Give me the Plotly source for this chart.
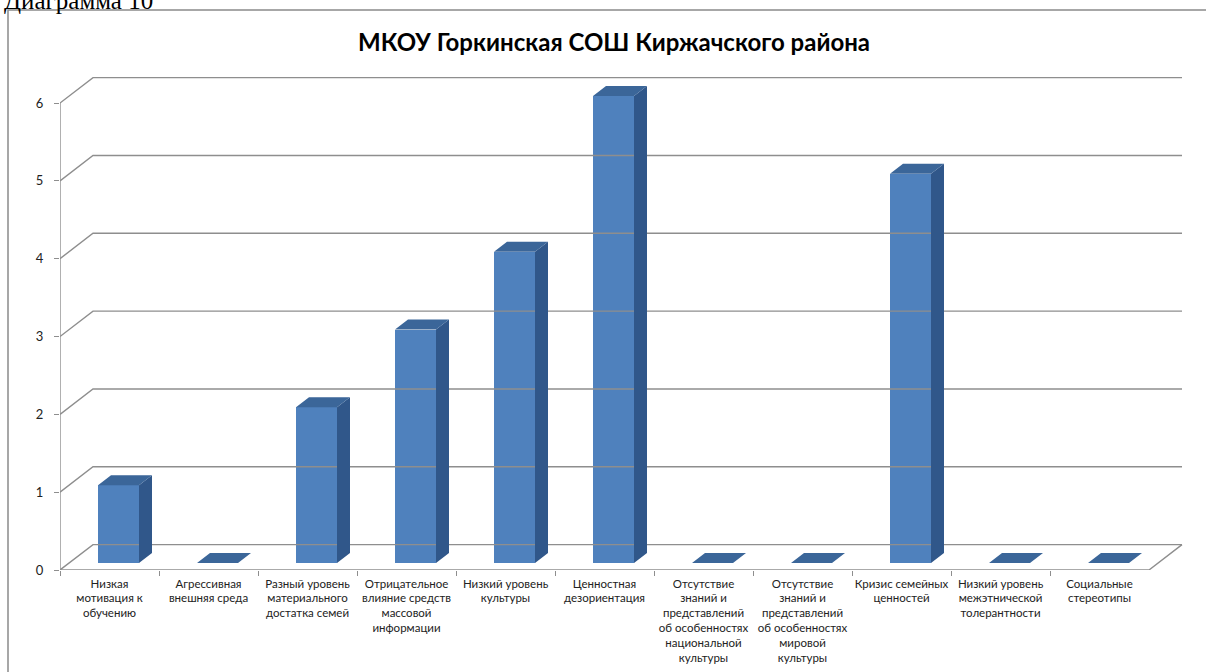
import plotly.graph_objects as go

# ---- data ----
title_text = "МКОУ Горкинская СОШ Киржачского района"
caption_text = "Диаграмма 10"
categories = [
    "Низкая<br>мотивация к<br>обучению",
    "Агрессивная<br>внешняя среда",
    "Разный уровень<br>материального<br>достатка семей",
    "Отрицательное<br>влияние средств<br>массовой<br>информации",
    "Низкий уровень<br>культуры",
    "Ценностная<br>дезориентация",
    "Отсутствие<br>знаний и<br>представлений<br>об особенностях<br>национальной<br>культуры",
    "Отсутствие<br>знаний и<br>представлений<br>об особенностях<br>мировой<br>культуры",
    "Кризис семейных<br>ценностей",
    "Низкий уровень<br>межэтнической<br>толерантности",
    "Социальные<br>стереотипы",
]
values = [1, 0, 2, 3, 4, 6, 0, 0, 5, 0, 0]
y_ticks = [0, 1, 2, 3, 4, 5, 6]

# ---- geometry / style ----
W, H = 1206, 672
ML, MR, MT, MB = 60, 22, 72, 102
PX_PER_CAT = 99.0
PX_PER_UNIT = 77.83
plot_w = W - ML - MR
plot_h = H - MT - MB
XR = plot_w / PX_PER_CAT
YR = plot_h / PX_PER_UNIT

n = len(categories)
WALL_DX, WALL_DY = 33 / PX_PER_CAT, 25.4 / PX_PER_UNIT
BAR_OFF_X, BAR_OFF_Y = 9 / PX_PER_CAT, 7 / PX_PER_UNIT
BAR_W = 41 / PX_PER_CAT
BAR_DX, BAR_DY = 13 / PX_PER_CAT, 10 / PX_PER_UNIT
X_END = n + WALL_DX

GRID_C = "#8E8E8E"
FRONT_C = "#4F81BD"
TOP_C = "#3B6699"
SIDE_C = "#30578A"
FONT = "Lato"

fig = go.Figure()

# gridlines (side wall + back wall)
gx, gy = [], []
for v in y_ticks:
    gx += [0, WALL_DX, X_END, None]
    gy += [v, v + WALL_DY, v + WALL_DY, None]
# floor front edge + right edge
gx += [0, n, X_END, None]
gy += [0, 0, WALL_DY, None]
# vertical axis line
gx += [0, 0, None]
gy += [0, max(y_ticks), None]
fig.add_trace(go.Scatter(x=gx, y=gy, mode="lines",
                         line=dict(color=GRID_C, width=1.4),
                         hoverinfo="skip", showlegend=False))

# side & top faces
sx, sy, tx, ty = [], [], [], []
for i, v in enumerate(values):
    x0 = i + (1 - BAR_W) / 2 + BAR_OFF_X
    x1 = x0 + BAR_W
    b = BAR_OFF_Y
    top = b + v
    tx += [x0, x1, x1 + BAR_DX, x0 + BAR_DX, x0, None]
    ty += [top, top, top + BAR_DY, top + BAR_DY, top, None]
    if v > 0:
        sx += [x1, x1, x1 + BAR_DX, x1 + BAR_DX, x1, None]
        sy += [b, top, top + BAR_DY, b + BAR_DY, b, None]
fig.add_trace(go.Scatter(x=sx, y=sy, mode="lines", fill="toself",
                         fillcolor=SIDE_C, line=dict(width=0, color=SIDE_C),
                         hoverinfo="skip", showlegend=False))
fig.add_trace(go.Scatter(x=tx, y=ty, mode="lines", fill="toself",
                         fillcolor=TOP_C, line=dict(width=0, color=TOP_C),
                         hoverinfo="skip", showlegend=False))

# front faces
fig.add_trace(go.Bar(
    x=[i + 0.5 + BAR_OFF_X for i in range(n)],
    y=values, base=BAR_OFF_Y, width=BAR_W,
    marker=dict(color=FRONT_C, line=dict(width=0)),
    showlegend=False, hoverinfo="y"))

# border and captions
px = lambda p: (p - ML) / plot_w
py = lambda p: (H - MB - p) / plot_h
fig.add_shape(type="rect", xref="paper", yref="paper",
              x0=px(8), x1=px(1230), y0=py(700), y1=py(10),
              line=dict(color="#8A8A8A", width=1.5), fillcolor="rgba(0,0,0,0)")

fig.add_annotation(text=caption_text, xref="paper", yref="paper",
                   x=px(2), y=py(16), xanchor="left", yanchor="bottom",
                   showarrow=False,
                   font=dict(family="Liberation Serif", size=25, color="black"))
fig.add_annotation(text="<b>" + title_text + "</b>", xref="paper", yref="paper",
                   x=px(614), y=py(42), xanchor="center", yanchor="middle",
                   showarrow=False,
                   font=dict(family=FONT, size=24, color="black"))

fig.update_layout(
    width=W, height=H, autosize=False,
    margin=dict(l=ML, r=MR, t=MT, b=MB, autoexpand=False),
    paper_bgcolor="white", plot_bgcolor="white",
    bargap=0,
    xaxis=dict(range=[0, XR], showgrid=False, zeroline=False, showline=False,
               automargin=False,
               tickmode="array", tickvals=[i + 0.5 for i in range(n)],
               ticktext=categories, ticks="", tickangle=0,
               ticklabelstandoff=5,
               tickfont=dict(family=FONT, size=11.5, color="#222"),
               minor=dict(tickmode="array", tickvals=list(range(n)),
                          ticks="outside", ticklen=5, tickcolor=GRID_C,
                          tickwidth=1.4, showgrid=False)),
    yaxis=dict(range=[0, YR], showgrid=False, zeroline=False, showline=False,
               automargin=False,
               tickmode="array", tickvals=y_ticks, ticks="outside",
               ticklen=5, tickcolor=GRID_C, tickwidth=1.4,
               ticklabelstandoff=8,
               tickfont=dict(family=FONT, size=13, color="#222")),
)

fig.write_html("out.html", config={"displayModeBar": False},
               post_script="document.body.style.margin='0';document.body.style.padding='0';")
